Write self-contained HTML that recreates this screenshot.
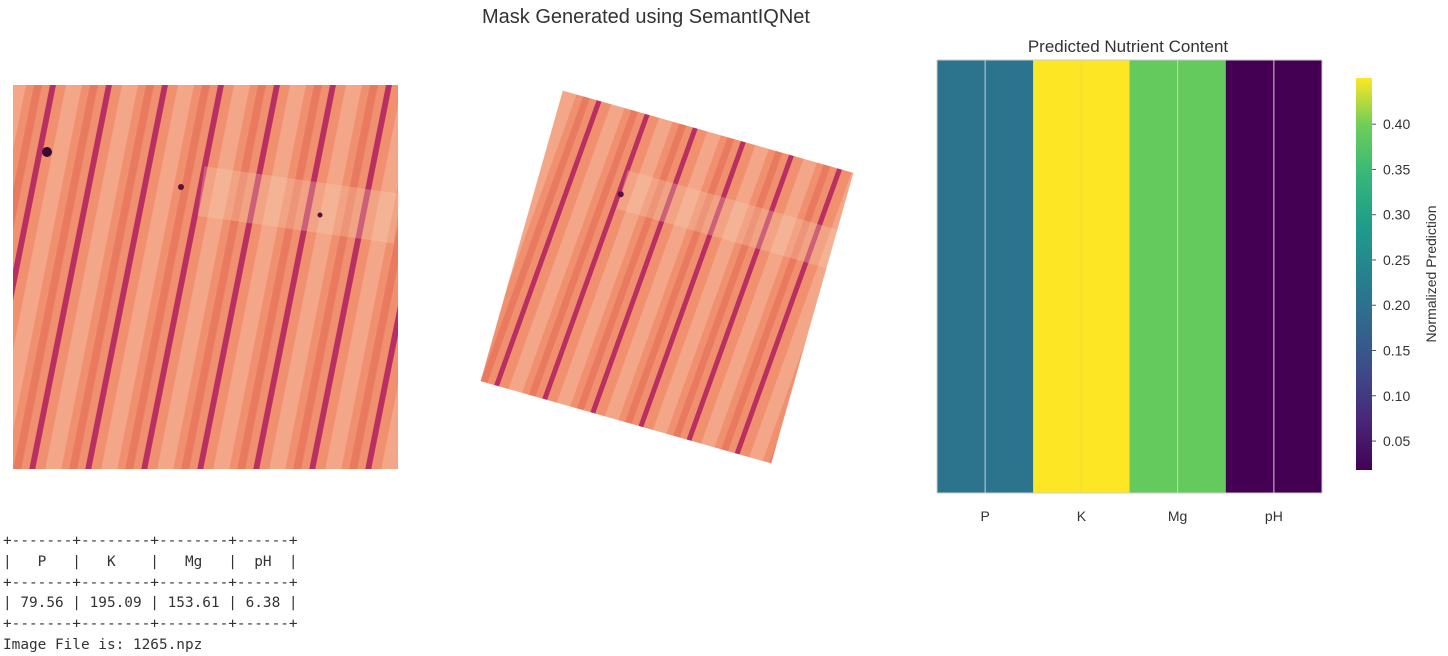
<!DOCTYPE html>
<html><head><meta charset="utf-8"><style>
body{margin:0;background:#fff;width:1448px;height:652px;overflow:hidden;position:relative;font-family:"Liberation Sans","DejaVu Sans",sans-serif}
#tbl{position:absolute;left:3px;top:531px;font-family:"DejaVu Sans Mono","Liberation Mono",monospace;font-size:14.4px;line-height:20.8px;color:#333;white-space:pre;margin:0}
</style></head><body>
<svg width="1448" height="652" style="position:absolute;left:0;top:0">
<defs>
<pattern id="st1" width="56" height="12" patternUnits="userSpaceOnUse" patternTransform="translate(50,85) skewX(-11.3)">
<rect x="0" y="0" width="56" height="12" fill="#f0906f"/>
<rect x="16" y="0" width="16" height="12" fill="#f5ad8e" opacity="0.8"/>
<rect x="40" y="0" width="8" height="12" fill="#e97a60"/>
<rect x="0" y="0" width="6" height="12" fill="#b93060"/>
</pattern>
<pattern id="st2" width="50" height="12" patternUnits="userSpaceOnUse" patternTransform="translate(10,0) skewX(-4)">
<rect x="0" y="0" width="50" height="12" fill="#f0906f"/>
<rect x="15" y="0" width="14" height="12" fill="#f5ad8e" opacity="0.8"/>
<rect x="36" y="0" width="7" height="12" fill="#e97a60"/>
<rect x="0" y="0" width="5" height="12" fill="#b93060"/>
</pattern>
<linearGradient id="cb" x1="0" y1="1" x2="0" y2="0">
<stop offset="0" stop-color="#440154"/><stop offset="0.13" stop-color="#482878"/><stop offset="0.25" stop-color="#3e4a89"/><stop offset="0.38" stop-color="#31688e"/><stop offset="0.5" stop-color="#26828e"/><stop offset="0.63" stop-color="#1f9e89"/><stop offset="0.75" stop-color="#35b779"/><stop offset="0.88" stop-color="#6ece58"/><stop offset="1" stop-color="#fde725"/>
</linearGradient>
</defs>
<text x="646" y="23" font-size="20" fill="#333" text-anchor="middle">Mask Generated using SemantIQNet</text>
<g>
<rect x="13" y="85" width="385" height="384" fill="url(#st1)"/>
<rect x="200" y="180" width="198" height="50" fill="#f9d0b4" opacity="0.3" transform="rotate(8 300 205)"/>
<circle cx="47" cy="152" r="5" fill="#3a0a30"/><circle cx="181" cy="187" r="3" fill="#5a1040"/><circle cx="320" cy="215" r="2.5" fill="#5a1040"/>
</g>
<g transform="rotate(15.8 667 277)">
<rect x="516" y="126" width="302" height="302" fill="url(#st2)"/>
<rect x="600" y="185" width="218" height="40" fill="#f9d0b4" opacity="0.3"/>
<circle cx="600" cy="210" r="3" fill="#5a1040"/>
</g>
<text x="1128" y="52" font-size="17" fill="#333" text-anchor="middle">Predicted Nutrient Content</text>
<g id="hm"></g>
<rect x="1356" y="78" width="16" height="392" fill="url(#cb)"/>
<g id="cbt"></g>
<text transform="translate(1436 274) rotate(-90)" font-size="14" fill="#333" text-anchor="middle">Normalized Prediction</text>
</svg>
<pre id="tbl">+-------+--------+--------+------+
|   P   |   K    |   Mg   |  pH  |
+-------+--------+--------+------+
| 79.56 | 195.09 | 153.61 | 6.38 |
+-------+--------+--------+------+
Image File is: 1265.npz</pre>
<script>
const categories=["P","K","Mg","pH"];
const values=[0.205,0.451,0.39,0.018];
const cbTicks=[0.05,0.10,0.15,0.20,0.25,0.30,0.35,0.40];
const vmin=0.018,vmax=0.451;
const NS="http://www.w3.org/2000/svg";
const stops=[[0,"#440154"],[0.13,"#482878"],[0.25,"#3e4a89"],[0.38,"#31688e"],[0.5,"#26828e"],[0.63,"#1f9e89"],[0.75,"#35b779"],[0.88,"#6ece58"],[1,"#fde725"]];
function hex(h){return [1,3,5].map(i=>parseInt(h.substr(i,2),16));}
function cmap(t){t=Math.max(0,Math.min(1,t));for(let i=1;i<stops.length;i++){if(t<=stops[i][0]){const a=stops[i-1],b=stops[i];const f=(t-a[0])/(b[0]-a[0]);const ca=hex(a[1]),cb=hex(b[1]);return "rgb("+ca.map((c,k)=>Math.round(c+(cb[k]-c)*f)).join(",")+")";}}return stops[stops.length-1][1];}
const hx0=937,hx1=1322,hy0=60,hy1=493;
const cw=(hx1-hx0)/categories.length;
const xs=i=>hx0+i*cw;
const cby=v=>470-(v-vmin)/(vmax-vmin)*392;
const hm=document.getElementById('hm');
function mk(tag,attrs,parent){const e=document.createElementNS(NS,tag);for(const k in attrs)e.setAttribute(k,attrs[k]);parent.appendChild(e);return e;}
categories.forEach((c,i)=>{
 const r=mk('rect',{x:xs(i),y:hy0,width:cw,height:hy1-hy0,fill:cmap((values[i]-vmin)/(vmax-vmin))},hm);
 
 
 const l=mk('line',{x1:xs(i)+cw/2,x2:xs(i)+cw/2,y1:hy0,y2:hy1,stroke:'#d0d0d0','stroke-width':1},hm);
 
 
 const t=mk('text',{x:xs(i)+cw/2,y:521,'font-size':14,fill:'#333','text-anchor':'middle'},hm);
 t.textContent=c;
 
 
});
const fr=mk('rect',{x:hx0,y:hy0,width:hx1-hx0,height:hy1-hy0,fill:'none',stroke:'#ccc','stroke-width':1},hm);


const cbt=document.getElementById('cbt');
cbTicks.forEach(v=>{
 const y=cby(v);
 const l=mk('line',{x1:1372,x2:1376,y1:y,y2:y,stroke:'#555'},cbt);
 
 
 const t=mk('text',{x:1383,y:y+5,'font-size':14,fill:'#333'},cbt);
 t.textContent=v.toFixed(2);
 
 
});
</script>
</body></html>
